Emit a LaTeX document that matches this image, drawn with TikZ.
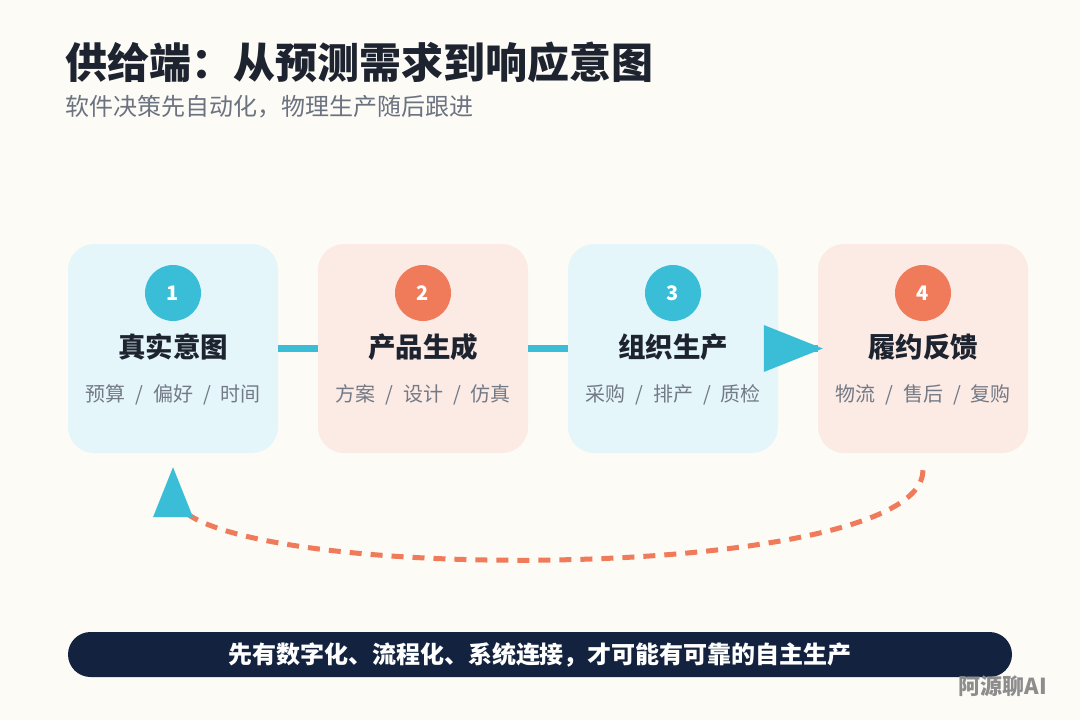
\documentclass[tikz,border=0pt]{standalone}
\usepackage{fontspec}
\setmainfont{Noto Sans CJK SC}
\usetikzlibrary{arrows.meta,calc}
\definecolor{bg}{HTML}{FDFBF6}
\definecolor{cyanfill}{HTML}{E5F6FB}
\definecolor{peachfill}{HTML}{FCEAE4}
\definecolor{cyanA}{HTML}{3ABED8}
\definecolor{orangeA}{HTML}{EF7B5A}
\definecolor{darktext}{HTML}{1D2430}
\definecolor{subgray}{HTML}{6B7280}
\definecolor{stepgray}{HTML}{737A86}
\definecolor{navy}{HTML}{13233F}
\definecolor{wmgray}{HTML}{8D8D8D}
\begin{document}
\begin{tikzpicture}[x=1pt,y=-1pt,
  stepbox/.style={rounded corners=26pt, minimum width=210pt, minimum height=209pt, inner sep=0pt},
  num/.style={circle, minimum size=56pt, inner sep=0pt, text=white, font=\fontsize{20}{24}\selectfont\bfseries},
  steptitle/.style={font=\fontsize{27.5}{32}\selectfont\bfseries, text=darktext, inner sep=0pt},
  stepsub/.style={font=\fontsize{20}{24}\selectfont, text=stepgray, inner sep=0pt},
  conn/.style={line width=7pt, draw=cyanA},
  fb/.style={line width=5pt, draw=orangeA, dash pattern=on 12pt off 9pt}
]
\fill[bg] (0,0) rectangle (1080,720);
\useasboundingbox (0,0) rectangle (1080,720);

\newcommand{\sep}{\hspace{10pt}/\hspace{10pt}}

% title
\node[anchor=west, inner sep=0pt, text=darktext, font=\fontsize{42}{50}\selectfont\bfseries] (title) at (65,62) {供给端：从预测需求到响应意图};
\node[anchor=west, inner sep=0pt, text=subgray, font=\fontsize{24}{28}\selectfont] (subtitle) at (65,107) {软件决策先自动化，物理生产随后跟进};

% boxes
\node[stepbox, fill=cyanfill] (b1) at (173,348.5) {};
\node[stepbox, fill=peachfill] (b2) at (423,348.5) {};
\node[stepbox, fill=cyanfill] (b3) at (673,348.5) {};
\node[stepbox, fill=peachfill] (b4) at (923,348.5) {};

\node[num, fill=cyanA] (n1) at (173,293) {1};
\node[num, fill=orangeA] (n2) at (423,293) {2};
\node[num, fill=cyanA] (n3) at (673,293) {3};
\node[num, fill=orangeA] (n4) at (923,293) {4};

\node[steptitle] (t1) at (173,347) {真实意图};
\node[steptitle] (t2) at (423,347) {产品生成};
\node[steptitle] (t3) at (673,347) {组织生产};
\node[steptitle] (t4) at (923,347) {履约反馈};

\node[stepsub] (s1) at (173,395) {预算\sep 偏好\sep 时间};
\node[stepsub] (s2) at (423,395) {方案\sep 设计\sep 仿真};
\node[stepsub] (s3) at (673,395) {采购\sep 排产\sep 质检};
\node[stepsub] (s4) at (923,395) {物流\sep 售后\sep 复购};

% connectors
\draw[conn] (b1.east) -- (b2.west);
\draw[conn] (b2.east) -- (b3.west);
\draw[conn] (b3.east) -- (b4.west);
\fill[cyanA] ($(b4.west)+(5,0)$) -- ++(-59,-23.5) -- ++(0,47) -- cycle;

% feedback
\coordinate (fbS) at ([yshift=-17pt]b4.south);
\coordinate (fbE) at ([yshift=-14pt]b1.south);
\coordinate (fbC) at ([yshift=-40pt]b1.south);
\draw[fb] (fbS) .. controls +(0,117) and +(0,92) .. (fbC);
\fill[cyanA] (fbE) -- ++(-20,50) -- ++(40,0) -- cycle;

% bottom bar
\node[fill=navy, rounded corners=22.5pt, minimum width=944pt, minimum height=45pt, inner sep=0pt,
  text=white, font=\fontsize{24}{28}\selectfont\bfseries] (bar) at (540,654.5) {先有数字化、流程化、系统连接，才可能有可靠的自主生产};

% watermark
\node[anchor=east, inner sep=0pt, text=wmgray, font=\fontsize{22}{26}\selectfont\bfseries] (wm) at (1047,686) {阿源聊AI};
\end{tikzpicture}
\end{document}
